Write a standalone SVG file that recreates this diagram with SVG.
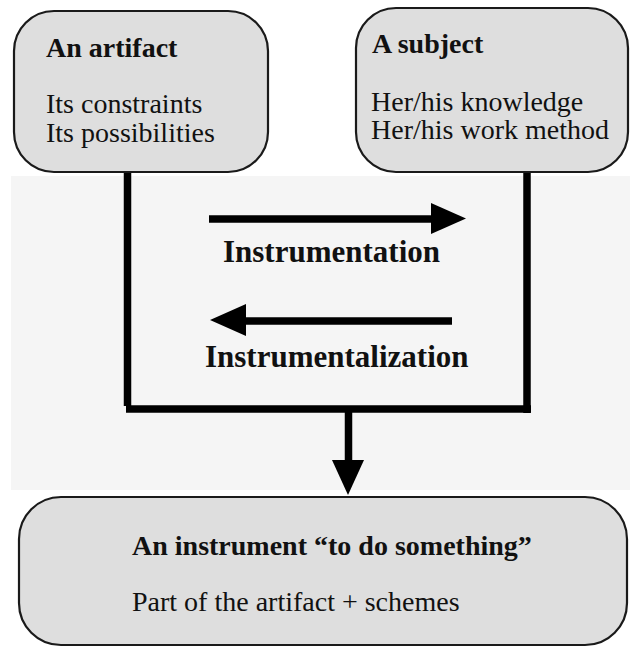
<svg xmlns="http://www.w3.org/2000/svg" width="630" height="648" viewBox="0 0 630 648">
<style>
.box{fill:#dedede;stroke:#1a1a1a;stroke-width:2.2}
.t{font-size:28px;fill:#111}
.b{font-weight:bold}
.lbl{font-size:31px;font-weight:bold;fill:#111}
.ln{stroke:#000;stroke-width:7.5;fill:none}
</style>
<rect x="0" y="0" width="630" height="648" fill="#ffffff"/>
<rect id="band" x="11" y="176" width="619" height="314" fill="#f5f5f5"/>
<g font-family="Liberation Serif, serif">
<g id="connectors">
<line class="ln" x1="127.5" y1="172" x2="127.5" y2="406"/>
<line class="ln" x1="527" y1="172" x2="527" y2="413"/>
<line class="ln" x1="126" y1="409" x2="531" y2="409"/>
<line class="ln" x1="348.5" y1="409" x2="348.5" y2="462"/>
<polygon points="332,460 364,460 348,495" fill="#000"/>
<line class="ln" x1="209" y1="219" x2="433" y2="219" stroke-width="8"/>
<polygon points="431,203 466,218.5 431,234" fill="#000"/>
<line class="ln" x1="244" y1="321" x2="452" y2="321" stroke-width="8"/>
<polygon points="246,304 210,320 246,336" fill="#000"/>
<text class="lbl" x="223" y="262">Instrumentation</text>
<text class="lbl" x="205" y="367">Instrumentalization</text>
</g>
<g id="artifact">
<rect class="box" x="14" y="11" width="254" height="161" rx="40" ry="40"/>
<text class="t b" x="46" y="57">An artifact</text>
<text class="t" x="46" y="113">Its constraints</text>
<text class="t" x="46" y="142">Its possibilities</text>
</g>
<g id="subject">
<rect class="box" x="356" y="8" width="272" height="164" rx="40" ry="40"/>
<text class="t b" x="372" y="53">A subject</text>
<text class="t" x="371" y="111">Her/his knowledge</text>
<text class="t" x="371" y="139">Her/his work method</text>
</g>
<g id="instrument">
<rect class="box" x="19" y="497" width="608" height="148" rx="42" ry="42"/>
<text class="t b" x="132" y="555">An instrument “to do something”</text>
<text class="t" x="132" y="611">Part of the artifact + schemes</text>
</g>
</g>
</svg>
